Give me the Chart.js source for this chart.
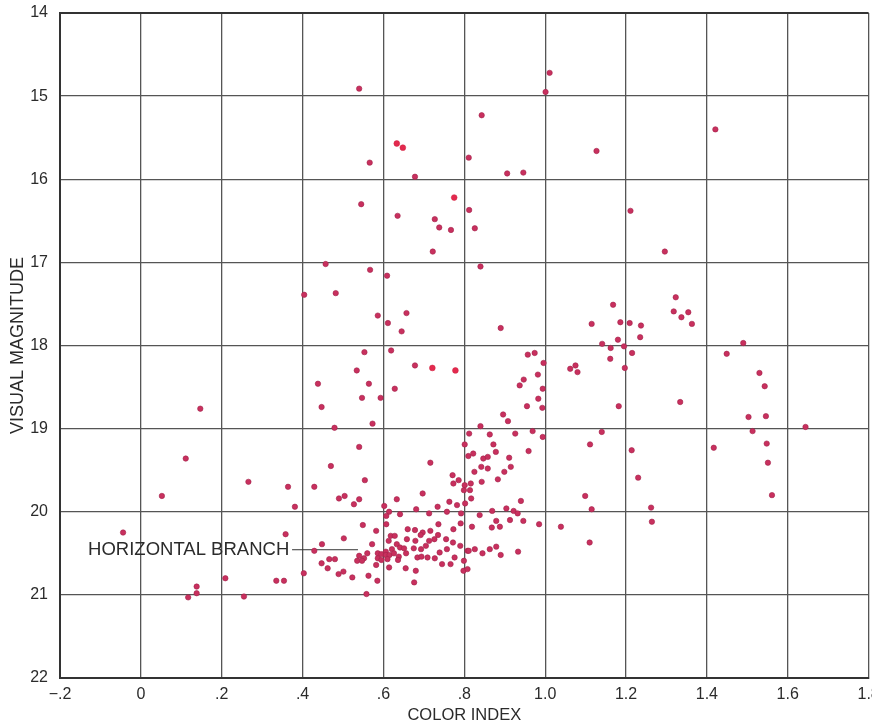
<!DOCTYPE html>
<html>
<head>
<meta charset="utf-8">
<script src="https://cdn.jsdelivr.net/npm/chart.js@4/dist/chart.umd.min.js"></script>
<style>
  html, body { margin: 0; padding: 0; background: #ffffff; }
  #wrap { width: 872px; height: 726px; }
</style>
</head>
<body>
<div id="wrap"><canvas id="cmd" width="872" height="726"></canvas></div>
<script>
// Colour–magnitude diagram of a globular cluster

// Axis ticks
const xTickValues = [-0.2, 0, 0.2, 0.4, 0.6, 0.8, 1.0, 1.2, 1.4, 1.6, 1.8];
const xTickLabels = ['\u2212.2', '0', '.2', '.4', '.6', '.8', '1.0', '1.2', '1.4', '1.6', '1.8'];
const yTickValues = [14, 15, 16, 17, 18, 19, 20, 21, 22];
const yTickLabels = ['14', '15', '16', '17', '18', '19', '20', '21', '22'];

// Stars: colour index (B–V) and visual magnitude, pairwise
const colorIndex = [
  0.147, 0.111, 0.052, -0.044, 0.266, 0.364, 0.381, 0.358, 0.209, 0.138, 0.138, 0.117, 0.255, 0.335, 0.354,
  0.540, 0.566, 0.678, 0.545, 0.635, 0.727, 0.738, 0.767, 0.722, 0.457, 0.567, 0.609,
  0.404, 0.482, 0.586, 0.657, 0.611, 0.645, 0.553, 0.619, 0.678, 0.534, 0.438, 0.564, 0.628, 0.547, 0.593,
  0.447, 0.573, 0.479, 0.540, 0.470, 0.716,
  0.429, 0.554, 0.490, 0.504, 0.540, 0.527, 0.602, 0.549, 0.582, 0.502, 0.448, 0.572, 0.429, 0.540, 0.552,
  0.560, 0.535, 0.547, 0.466, 0.480, 0.447, 0.462, 0.586, 0.586, 0.582, 0.595, 0.595, 0.403, 0.489, 0.501,
  0.523, 0.563, 0.585, 0.558,
  0.771, 0.773, 0.786, 0.799, 0.697, 0.633, 0.763, 0.782, 0.734, 0.681, 0.614, 0.641, 0.713, 0.757, 0.792,
  0.607, 0.791, 0.607, 0.736, 0.660, 0.678, 0.697, 0.716, 0.773, 0.618, 0.628, 0.692, 0.735, 0.755, 0.613,
  0.658, 0.679, 0.713, 0.726, 0.772, 0.790, 0.633, 0.641, 0.651, 0.705, 0.693, 0.675, 0.621, 0.606, 0.606,
  0.739, 0.757, 0.808, 0.615, 0.626, 0.638, 0.656, 0.684, 0.694, 0.709, 0.727, 0.776, 0.610, 0.636, 0.799,
  0.745, 0.766, 0.614, 0.655, 0.680, 0.798, 0.676,
  1.011, 1.001, 0.843, 1.127, 0.811, 0.906, 0.946, 0.812, 0.826, 0.840,
  0.890, 1.168, 1.115, 1.186, 1.141, 1.162, 1.180, 1.161, 0.957, 0.974, 0.996, 1.062, 1.075, 1.080, 0.982,
  0.947, 0.937, 0.994, 0.983, 0.955, 0.993, 1.182, 0.896, 0.908, 0.840, 0.812, 0.863, 0.926, 0.969, 0.994,
  1.140, 1.111, 0.801, 0.872, 0.878, 0.810, 0.822, 0.847, 0.858, 0.959, 0.911, 0.842, 0.858, 0.915, 0.825,
  0.899,
  0.843, 0.883, 0.816, 0.801, 0.814, 0.817, 0.802, 0.940, 0.869, 0.904, 0.922, 0.932, 0.838, 0.879, 0.913,
  0.946, 0.985, 0.819, 0.868, 0.888, 1.039, 1.099, 1.115, 1.110, 0.811, 0.826, 0.845, 0.863, 0.879, 0.890,
  0.933, 0.808,
  1.421, 1.211, 1.296, 1.323, 1.318, 1.337, 1.354, 1.363, 1.209, 1.237, 1.235, 1.195, 1.490, 1.215, 1.449,
  1.197, 1.530, 1.543, 1.334, 1.503, 1.546, 1.644, 1.513, 1.214, 1.417, 1.548, 1.551, 1.230, 1.561, 1.262,
  1.264
];
const visualMag = [
  18.76, 19.36, 19.81, 20.25, 19.64, 19.70, 19.94, 20.27, 20.80, 20.90, 20.98, 21.03, 21.02, 20.83, 20.83,
  14.91, 15.80, 15.97, 16.30, 16.44, 16.48, 16.58, 16.61, 16.87, 17.02, 17.09, 17.16,
  17.39, 17.37, 17.64, 17.61, 17.73, 17.83, 18.08, 18.06, 18.24, 18.30, 18.46, 18.46, 18.52, 18.63, 18.63,
  18.74, 18.94, 18.99, 19.22, 19.45, 19.41,
  19.70, 19.62, 19.84, 19.81, 19.85, 19.91, 19.93, 20.16, 20.23, 20.32, 20.39, 20.39, 20.47, 20.53, 20.56,
  20.50, 20.59, 20.59, 20.57, 20.57, 20.62, 20.68, 20.50, 20.56, 20.64, 20.51, 20.58, 20.74, 20.75, 20.72,
  20.79, 20.77, 20.83, 20.99,
  19.56, 19.66, 19.62, 19.74, 19.78, 19.85, 19.88, 19.92, 19.94, 19.97, 20.00, 20.03, 20.02, 20.00, 20.02,
  20.05, 20.14, 20.15, 20.15, 20.21, 20.22, 20.25, 20.23, 20.21, 20.29, 20.29, 20.28, 20.28, 20.33, 20.35,
  20.33, 20.35, 20.35, 20.33, 20.37, 20.41, 20.39, 20.43, 20.44, 20.41, 20.45, 20.44, 20.45, 20.48, 20.52,
  20.49, 20.45, 20.47, 20.52, 20.50, 20.54, 20.50, 20.55, 20.54, 20.55, 20.56, 20.55, 20.57, 20.58, 20.59,
  20.63, 20.63, 20.67, 20.68, 20.71, 20.71, 20.85,
  14.72, 14.95, 15.23, 15.66, 15.74, 15.93, 15.92, 16.37, 16.59, 17.05,
  17.79, 17.51, 17.74, 17.72, 17.98, 18.03, 17.93, 18.16, 18.11, 18.09, 18.21, 18.28, 18.24, 18.32, 18.35,
  18.41, 18.48, 18.52, 18.64, 18.73, 18.75, 18.73, 18.83, 18.91, 18.97, 19.06, 19.07, 19.06, 19.03, 19.10,
  19.04, 19.19, 19.19, 19.19, 19.28, 19.33, 19.30, 19.36, 19.34, 19.27, 19.35, 19.46, 19.48, 19.46, 19.52,
  19.52,
  19.64, 19.61, 19.66, 19.68, 19.74, 19.84, 19.90, 19.87, 19.99, 19.96, 19.99, 20.02, 20.04, 20.11, 20.10,
  20.11, 20.15, 20.18, 20.19, 20.18, 20.18, 19.81, 19.97, 20.37, 20.47, 20.45, 20.50, 20.45, 20.42, 20.52,
  20.48, 20.69,
  15.40, 16.38, 16.87, 17.42, 17.59, 17.66, 17.60, 17.74, 17.73, 17.76, 17.90, 18.01, 17.97, 18.09, 18.10,
  18.27, 18.33, 18.49, 18.68, 18.86, 18.85, 18.98, 19.03, 19.26, 19.23, 19.18, 19.41, 19.59, 19.80, 19.95,
  20.12
];

// A few stars printed in a brighter red
const brightColorIndex = [0.633, 0.648, 0.775, 0.721, 0.778];
const brightVisualMag  = [15.57, 15.62, 16.22, 18.27, 18.30];

// Label for the horizontal branch, with its leader line (data units)
const branchLabel = 'HORIZONTAL BRANCH';
const branchLabelAt = { x: 0.367, y: 20.457 };
const branchLeader = { x0: 0.374, x1: 0.537, y: 20.457 };

const FONT = "'Liberation Sans', Arial, Helvetica, sans-serif";
const INK = '#2b2b2b';
const GRID = '#555555';

function pairs(xs, ys) {
  return xs.map((x, i) => ({ x: x, y: ys[i] }));
}

const branchPlugin = {
  id: 'branchLabel',
  beforeDatasetsDraw(chart) {
    const { ctx, scales: { x, y } } = chart;
    ctx.save();
    ctx.strokeStyle = '#333333';
    ctx.lineWidth = 1;
    ctx.beginPath();
    ctx.moveTo(x.getPixelForValue(branchLeader.x0), y.getPixelForValue(branchLeader.y));
    ctx.lineTo(x.getPixelForValue(branchLeader.x1), y.getPixelForValue(branchLeader.y));
    ctx.stroke();
    ctx.fillStyle = INK;
    ctx.font = '18.5px ' + FONT;
    ctx.textAlign = 'right';
    ctx.textBaseline = 'middle';
    ctx.fillText(branchLabel, x.getPixelForValue(branchLabelAt.x), y.getPixelForValue(branchLabelAt.y));
    ctx.restore();
  }
};

new Chart(document.getElementById('cmd'), {
  type: 'scatter',
  data: {
    datasets: [
      {
        label: 'Stars',
        data: pairs(colorIndex, visualMag),
        pointRadius: 2.7,
        pointHoverRadius: 2.7,
        backgroundColor: '#c8305e',
        borderColor: '#a3224a',
        borderWidth: 0.6
      },
      {
        label: 'Stars (bright)',
        data: pairs(brightColorIndex, brightVisualMag),
        pointRadius: 2.9,
        pointHoverRadius: 2.9,
        backgroundColor: '#e3294e',
        borderColor: '#d0203f',
        borderWidth: 0.5
      }
    ]
  },
  options: {
    responsive: false,
    animation: false,
    devicePixelRatio: 1,
    layout: { padding: { top: 13, right: 2, left: 0, bottom: 0 } },
    plugins: {
      legend: { display: false },
      tooltip: { enabled: false }
    },
    scales: {
      x: {
        type: 'linear',
        min: -0.2,
        max: 1.8,
        afterBuildTicks(scale) {
          scale.ticks = xTickValues.map(v => ({ value: v }));
        },
        afterFit(scale) {
          scale.height = 48;
          scale.paddingLeft = 0;
          scale.paddingRight = 0;
        },
        grid: {
          color: GRID,
          lineWidth: 1.3,
          drawTicks: false
        },
        border: { display: true, color: '#333333', width: 2 },
        ticks: {
          padding: 7,
          maxRotation: 0,
          autoSkip: false,
          color: INK,
          font: { family: FONT, size: 16 },
          callback: (v, i) => xTickLabels[i]
        },
        title: {
          display: true,
          text: 'COLOR INDEX',
          color: INK,
          font: { family: FONT, size: 16.5 },
          padding: { top: 0, bottom: 1 }
        }
      },
      y: {
        type: 'linear',
        reverse: true,
        min: 14,
        max: 22,
        afterBuildTicks(scale) {
          scale.ticks = yTickValues.map(v => ({ value: v }));
        },
        afterFit(scale) {
          scale.width = 60;
          scale.paddingTop = 0;
          scale.paddingBottom = 0;
        },
        grid: {
          color: (c) => (c.tick && c.tick.value === 14) ? '#333333' : GRID,
          lineWidth: (c) => (c.tick && c.tick.value === 14) ? 2 : 1.3,
          drawTicks: false
        },
        border: { display: true, color: '#333333', width: 2 },
        ticks: {
          padding: 12,
          autoSkip: false,
          color: INK,
          font: { family: FONT, size: 16 },
          callback: (v, i) => yTickLabels[i]
        },
        title: {
          display: true,
          text: 'VISUAL MAGNITUDE',
          color: INK,
          font: { family: FONT, size: 18 },
          padding: { top: 7, bottom: 0 }
        }
      }
    }
  },
  plugins: [branchPlugin]
});
</script>
</body>
</html>
